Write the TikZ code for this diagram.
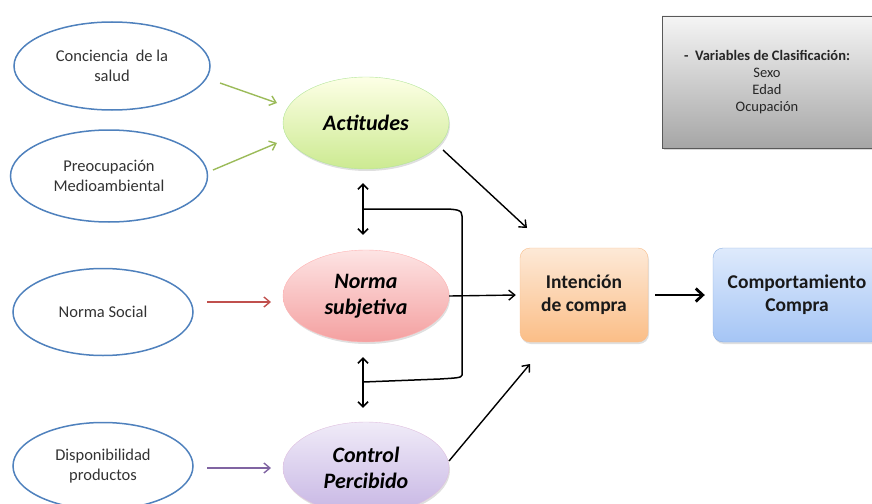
\documentclass[tikz,border=0pt]{standalone}
\usepackage{fontspec}
\setmainfont{Carlito}
\usetikzlibrary{arrows.meta,shadows,shapes.geometric}
\definecolor{ellblue}{HTML}{4F81BD}
\definecolor{garr}{HTML}{9BBB59}
\definecolor{rarr}{HTML}{C0504D}
\definecolor{parr}{HTML}{8064A2}
\tikzset{
  src/.style={ellipse,draw=ellblue,line width=1.5pt,fill=white,minimum width=#1,inner sep=0pt,align=center,font=\fontsize{16.5}{19.5}\selectfont,text=black!80},
  construct/.style={ellipse,minimum width=166pt,minimum height=92pt,inner sep=0pt,align=center,font=\fontsize{22}{26}\selectfont\bfseries\itshape,drop shadow={opacity=0.25,shadow xshift=1pt,shadow yshift=-2pt}},
  rbox/.style={rounded corners=10pt,minimum height=94pt,inner sep=0pt,align=center,font=\fontsize{19.5}{23}\selectfont\bfseries,text=black!90,drop shadow={opacity=0.25,shadow xshift=1pt,shadow yshift=-2pt}},
  thinarr/.style={line width=1.4pt,-{Straight Barb[length=6pt,width=10pt]}},
  blk/.style={line width=1.4pt,black,-{Straight Barb[length=6pt,width=10pt]}},
  dbl/.style={line width=1.5pt,black,{Straight Barb[length=5pt,width=10pt]}-{Straight Barb[length=5pt,width=10pt]}},
}
\begin{document}
\begin{tikzpicture}[x=1pt,y=-1pt]
\useasboundingbox (0,0) rectangle (872,503);
% source ellipses
\node[src=196pt,minimum height=88pt] (conc) at (112,66) {Conciencia\ \ de la\\salud};
\node[src=197pt,minimum height=92pt] (preo) at (109,176) {Preocupación\\Medioambiental};
\node[src=180pt,minimum height=87pt] (nsoc) at (103,312) {Norma Social};
\node[src=180pt,minimum height=87pt] (disp) at (103,466) {Disponibilidad\\productos};
% constructs
\node[construct,draw=green!50!olive!40,top color=green!8!yellow!10!white,bottom color={rgb,255:red,204;green,234;blue,145}] (act) at (366,123) {Actitudes};
\node[construct,draw=red!30,top color={rgb,255:red,253;green,228;blue,228},bottom color={rgb,255:red,244;green,160;blue,160}] (norm) at (366,296) {Norma\\subjetiva};
\node[construct,draw=violet!25,top color={rgb,255:red,240;green,235;blue,248},bottom color={rgb,255:red,199;green,182;blue,228}] (ctrl) at (366,468) {Control\\Percibido};
% boxes
\node[rbox,minimum width=128pt,draw={rgb,255:red,248;green,190;blue,140},top color={rgb,255:red,253;green,233;blue,215},bottom color={rgb,255:red,251;green,190;blue,135}] (int) at (584,295) {Intención\\de compra};
\node[rbox,minimum width=168pt,draw={rgb,255:red,140;green,175;blue,225},top color={rgb,255:red,222;green,234;blue,252},bottom color={rgb,255:red,165;green,197;blue,245}] (comp) at (797,295) {Comportamiento\\Compra};
\node[draw=black!65,line width=0.8pt,minimum width=210pt,minimum height=132pt,top color=black!4,bottom color=black!35,align=center,font=\fontsize{14.5}{17}\selectfont,text=black!85,drop shadow={opacity=0.3,shadow xshift=1.5pt,shadow yshift=-1.5pt}] (var) at (767,82) {\textbf{-\ \ Variables de Clasificación:}\\Sexo\\Edad\\Ocupación};
% coloured arrows
\coordinate (g1s) at (220,83); \coordinate (g1e) at (277,103);
\coordinate (g2s) at (213,170); \coordinate (g2e) at (277,143);
\draw[thinarr,garr] (g1s) -- (g1e);
\draw[thinarr,garr] (g2s) -- (g2e);
\coordinate (r1s) at (207,302); \coordinate (r1e) at (271,302);
\draw[thinarr,rarr] (r1s) -- (r1e);
\coordinate (p1s) at (207,468); \coordinate (p1e) at (271,468);
\draw[thinarr,parr] (p1s) -- (p1e);
% to intention
\coordinate (a1s) at (443,150); \coordinate (a1e) at (527,228);
\draw[blk] (a1s) -- (a1e);
\draw[blk] (norm.east) -- ([xshift=-4pt]int.west);
\coordinate (c1s) at (449,461); \coordinate (c1e) at (530,364);
\draw[blk] (c1s) -- (c1e);
\draw[line width=2.8pt,black,-{Straight Barb[length=7pt,width=13pt]}] ([xshift=7pt]int.east) -- ([xshift=-8pt]comp.west);
% double arrows
\draw[dbl] ([xshift=-3pt,yshift=-14pt]act.south) -- ([xshift=-3pt,yshift=15pt]norm.north);
\draw[dbl] ([xshift=-3pt,yshift=-15pt]norm.south) -- ([xshift=-3pt,yshift=14pt]ctrl.north);
% bracket
\coordinate (b1) at (363,209);
\coordinate (b2) at (363,382);
\draw[line width=1.5pt,black] (b1) -- (440,209) .. controls (458,209) and (462,210) .. (462,216) -- (462,375) .. controls (462,378) and (455,378) .. (440,379) -- (b2);
\end{tikzpicture}
\end{document}
